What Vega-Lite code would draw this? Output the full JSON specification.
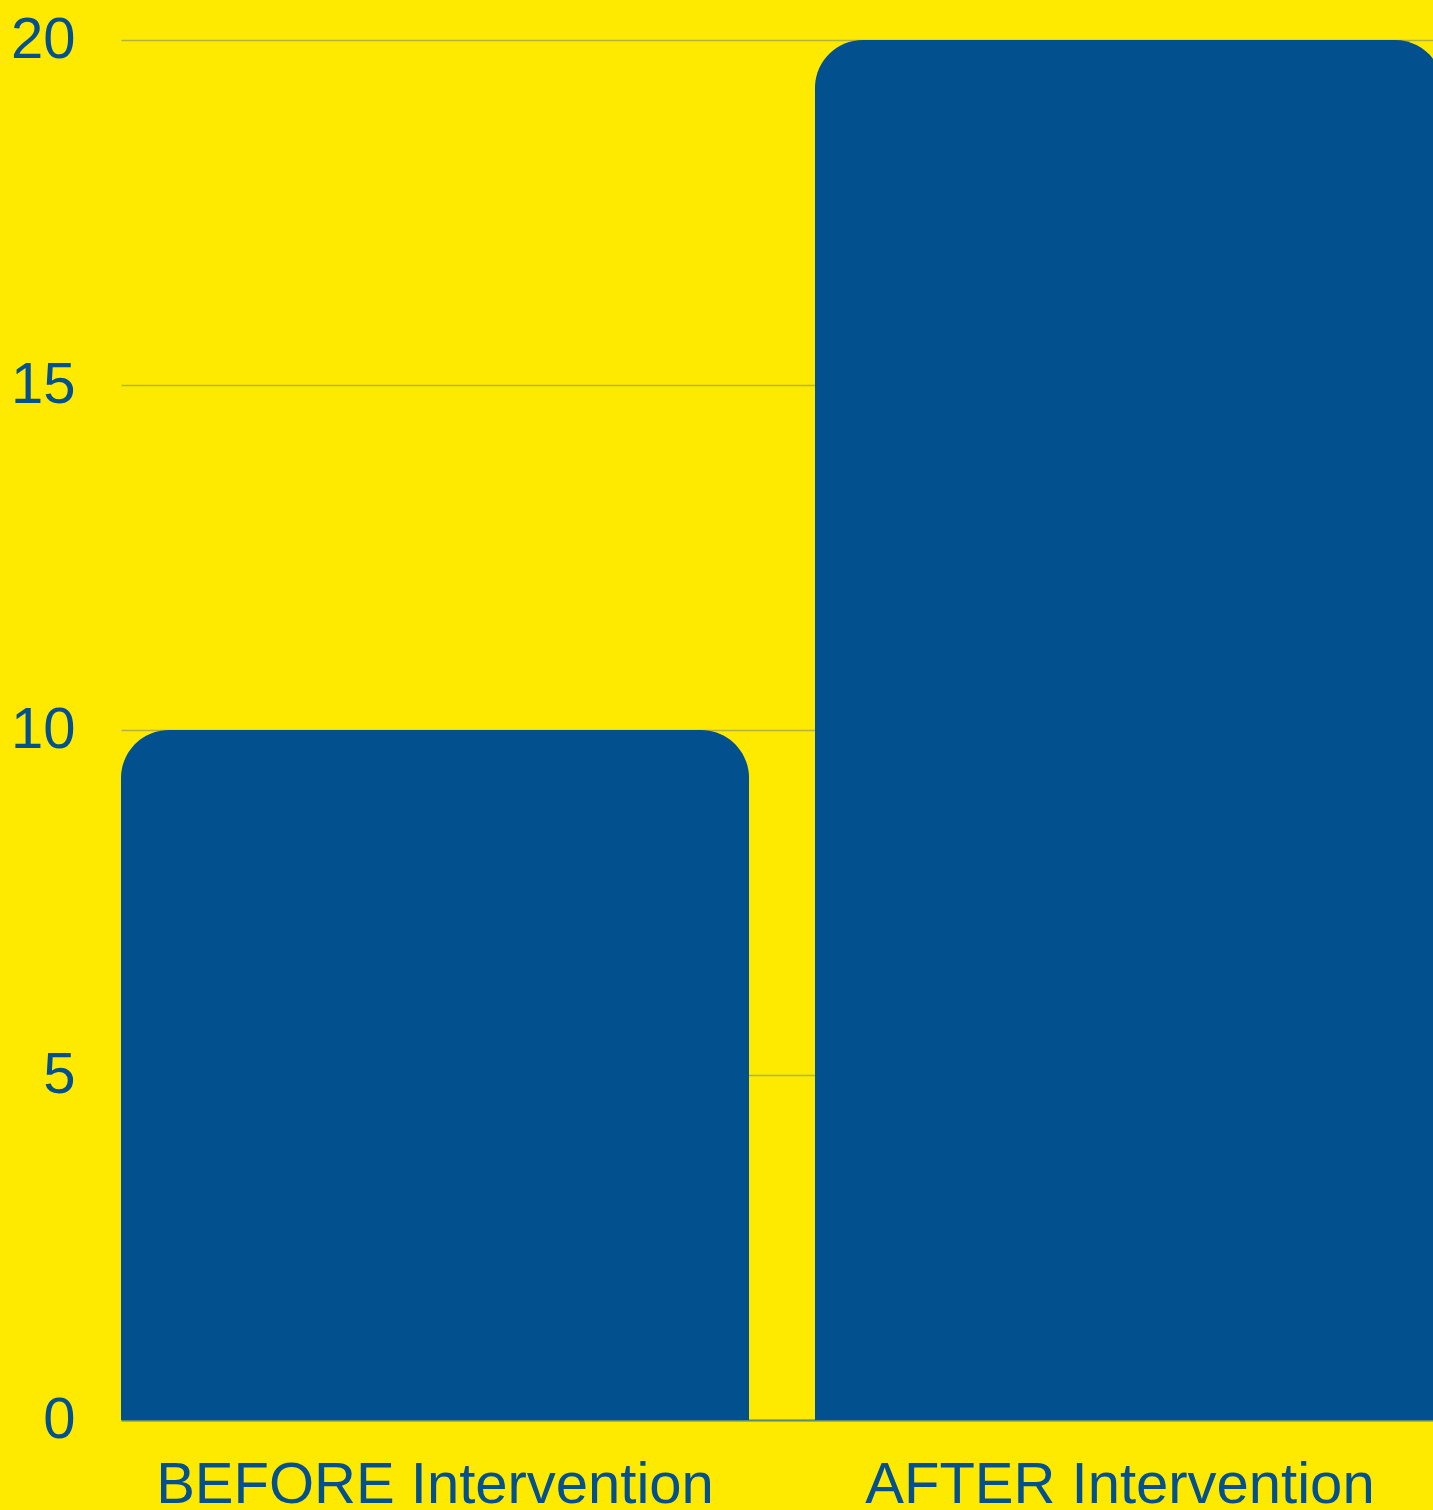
{
  "$schema": "https://vega.github.io/schema/vega-lite/v6.json",
  "autosize": {"type": "none"},
  "width": 1312,
  "height": 1380,
  "padding": {"left": 121, "top": 40, "right": 0, "bottom": 90},
  "background": "#FDEA00",
  "config": {
    "view": {"stroke": null},
    "font": "Liberation Sans"
  },
  "data": {
    "values": [
      {"phase": "BEFORE Intervention", "value": 10},
      {"phase": "AFTER Intervention", "value": 20}
    ]
  },
  "mark": {"type": "bar", "color": "#02508E", "cornerRadiusTopLeft": 48, "cornerRadiusTopRight": 48},
  "encoding": {
    "x": {
      "field": "phase",
      "type": "nominal",
      "sort": null,
      "scale": {"range": [0, 1322], "paddingInner": 0.095, "paddingOuter": 0},
      "axis": {
        "title": null,
        "labelAngle": 0,
        "labelFontSize": 58,
        "labelColor": "#02508E",
        "labelPadding": 36,
        "labelLimit": 0,
        "labelOffset": {"condition": {"test": "datum.value == 'AFTER Intervention'", "value": -9}, "value": 0},
        "ticks": false,
        "domain": true,
        "domainColor": "#5E8C74",
        "domainWidth": 2,
        "grid": false
      }
    },
    "y": {
      "field": "value",
      "type": "quantitative",
      "scale": {"domain": [0, 20], "nice": false},
      "axis": {
        "title": null,
        "values": [0, 5, 10, 15, 20],
        "labelFontSize": 58,
        "labelColor": "#02508E",
        "labelPadding": 46,
        "ticks": false,
        "domain": false,
        "grid": true,
        "gridColor": "#B4B43C",
        "gridWidth": 1.5
      }
    }
  }
}
